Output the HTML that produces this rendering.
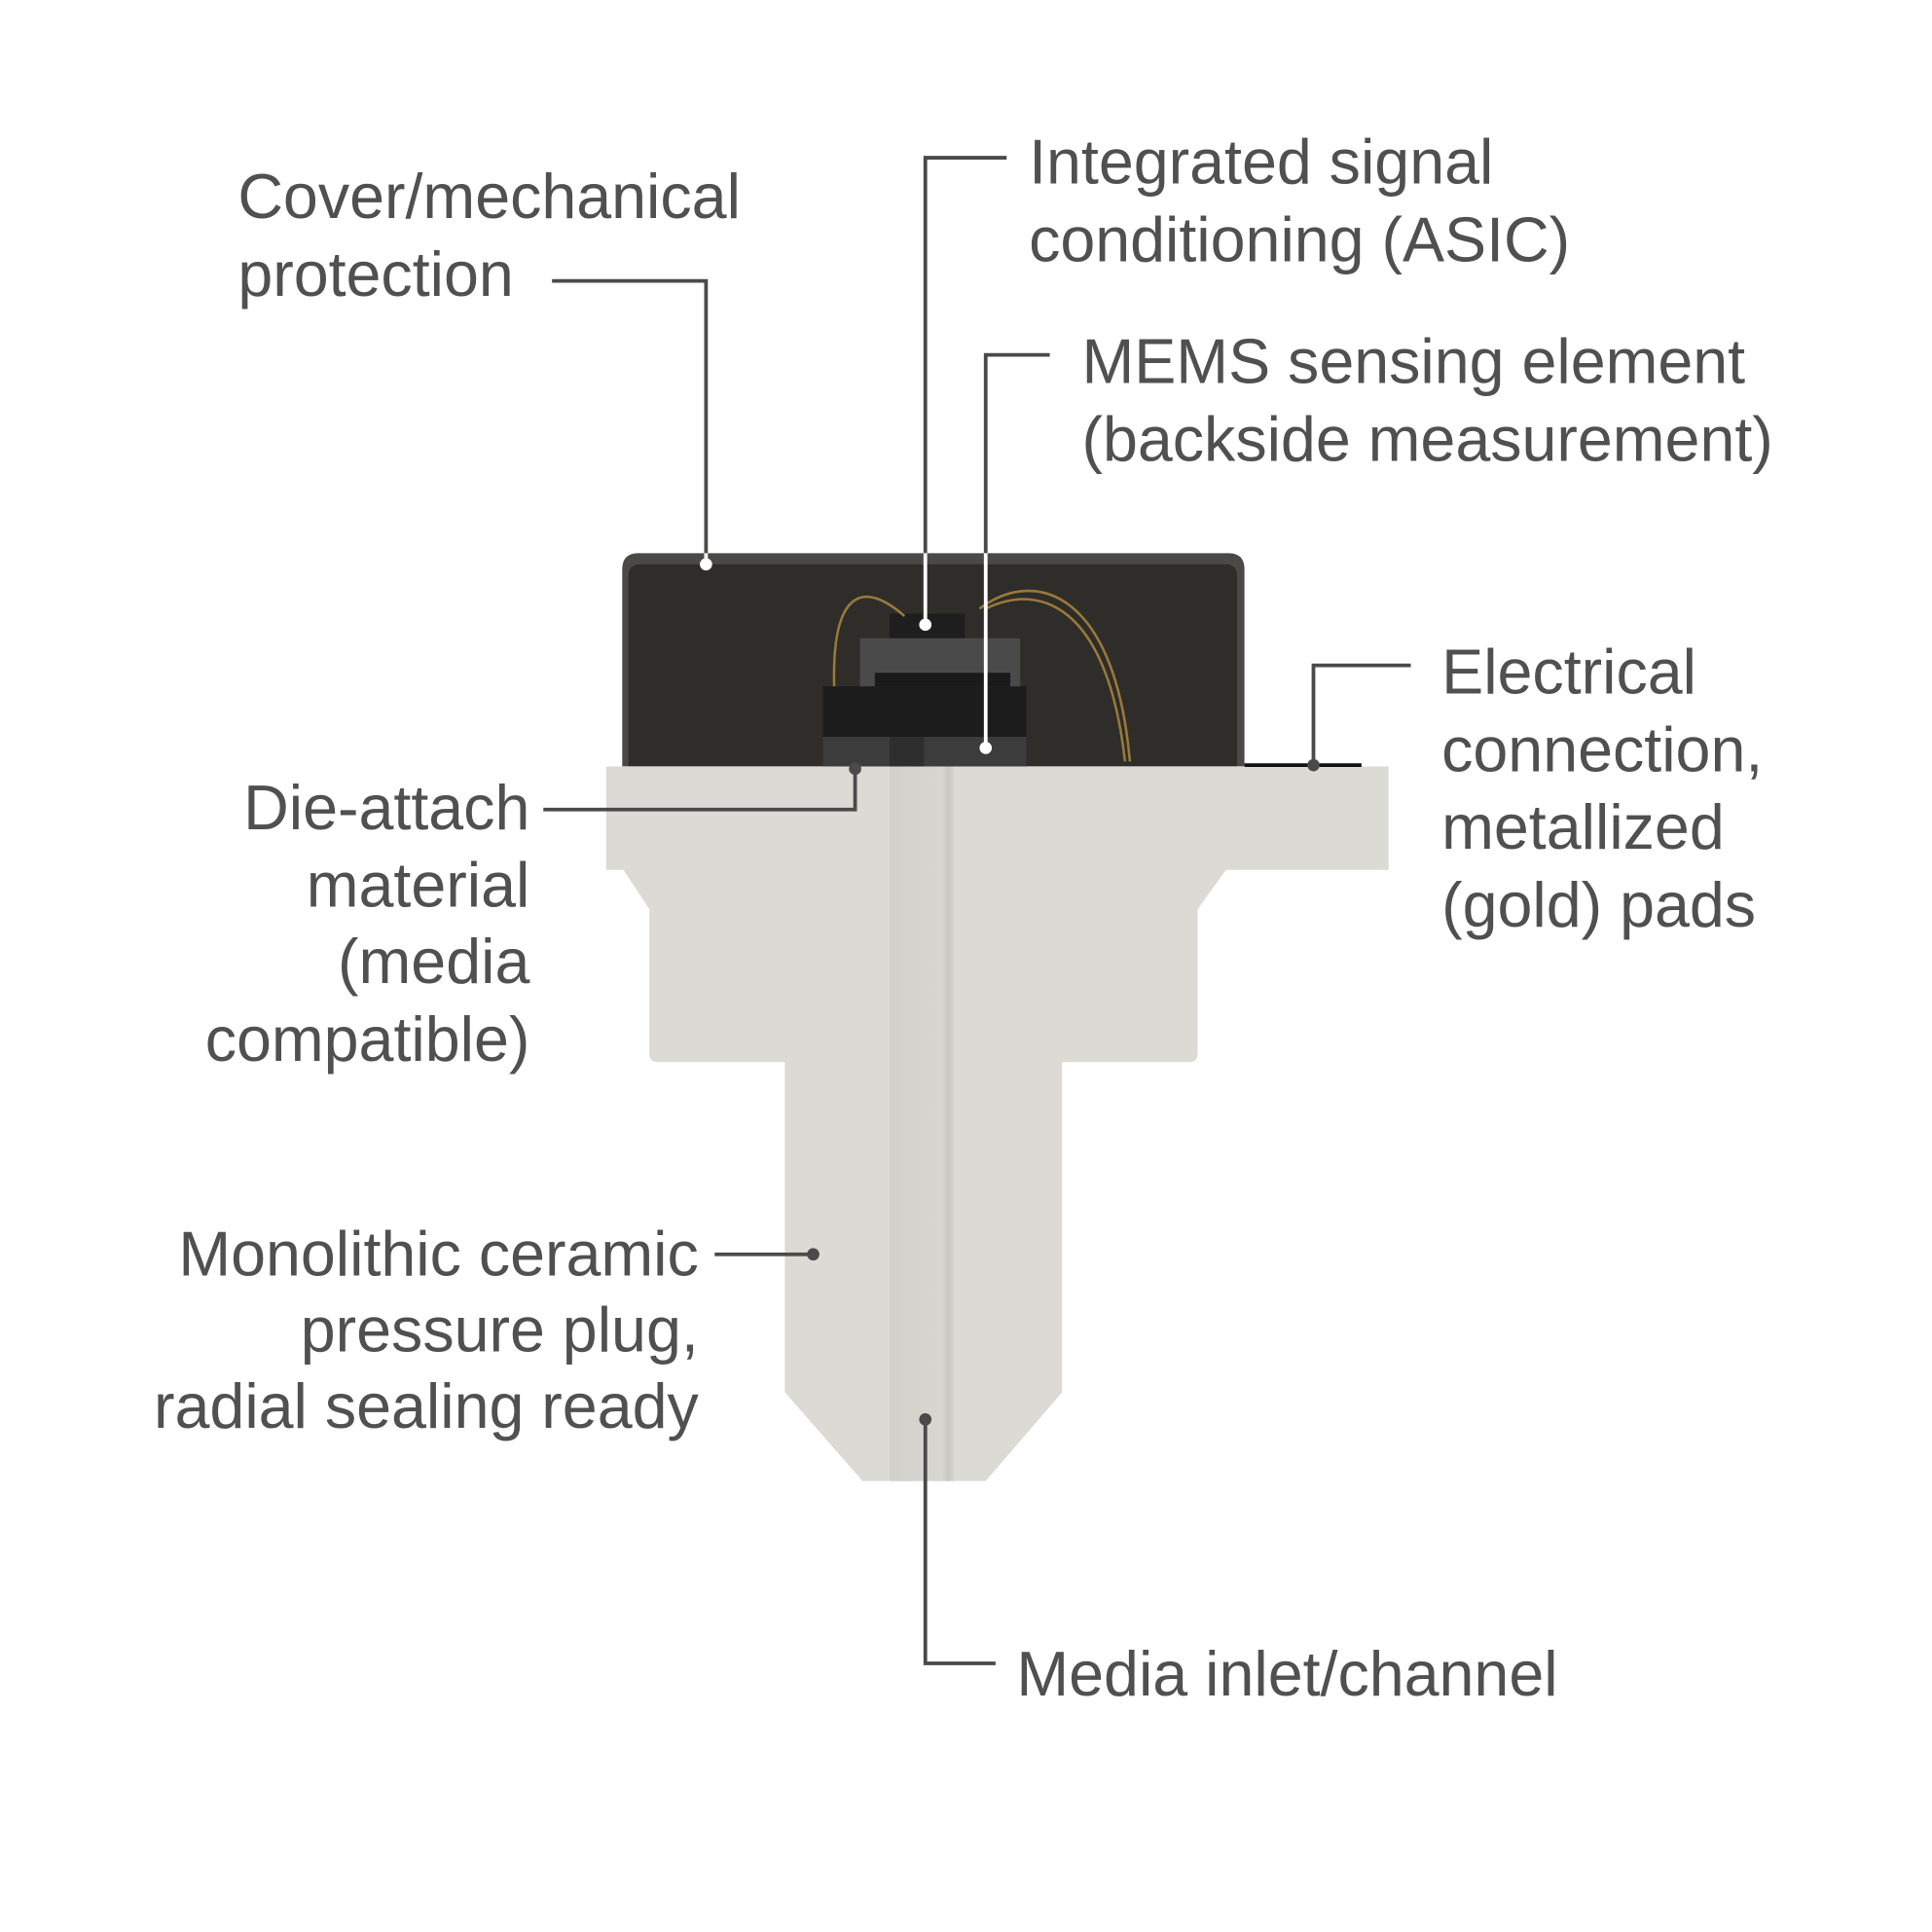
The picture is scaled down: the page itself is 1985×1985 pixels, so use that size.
<!DOCTYPE html>
<html><head><meta charset="utf-8"><style>
html,body{margin:0;padding:0;background:#fff}
svg{display:block}
text{font-family:"Liberation Sans",sans-serif;font-size:51px;letter-spacing:0px;fill:#505050;font-weight:normal}
</style></head><body>
<svg width="1985" height="1985" viewBox="0 0 1568 1568" xmlns="http://www.w3.org/2000/svg">
<defs>
<linearGradient id="chan" x1="0" x2="1">
<stop offset="0" stop-color="#d2d0ca"/><stop offset="0.8" stop-color="#d8d6d0"/><stop offset="0.9" stop-color="#c8c6c0"/><stop offset="1" stop-color="#dcdad4"/>
</linearGradient>
</defs>
<path d="M505,622 L505,462 Q505,449 518,449 L997,449 Q1010,449 1010,462 L1010,622 Z" fill="#4a4946"/>
<path d="M510,622 L510,468 Q510,458 520,458 L995,458 Q1004,458 1004,468 L1004,622 Z" fill="#2f2d2a"/>
<path d="M492,622 L1127,622 L1127,706 L995,706 L972,738 L972,855 Q972,862 965,862 L862,862 L862,1130 L800,1202 L700,1202 L637,1130 L637,862 L534,862 Q527,862 527,855 L527,738 L506,706 L492,706 Z" fill="#dcdad4"/>
<rect x="722" y="622" width="53" height="580" fill="url(#chan)"/>
<rect x="722" y="498" width="61" height="22" fill="#1e1e1e"/>
<rect x="698" y="518" width="130" height="40" fill="#4a4a4a"/>
<rect x="710" y="546" width="110" height="11" fill="#1a1a1a"/>
<rect x="668" y="557" width="165" height="42" fill="#1c1c1c"/>
<rect x="668" y="598" width="165" height="24" fill="#3c3c3c"/>
<rect x="722" y="598" width="28" height="24" fill="#2e2e2e"/>
<g fill="none" stroke="#9a7a3a" stroke-width="2">
<path d="M677,557 C675,480 700,470 734,500"/>
<path d="M795,494 C840,460 905,480 917,618"/>
<path d="M800,494 C850,470 900,500 913,618"/>
</g>
<line x1="1010" y1="621" x2="1105" y2="621" stroke="#111" stroke-width="3"/>
<g fill="none" stroke="#4a4a4a" stroke-width="3">
<path d="M448,228 L573,228 L573,449"/>
<path d="M817,128 L751,128 L751,449"/>
<path d="M852,288 L800,288 L800,449"/>
<path d="M1145,540 L1066,540 L1066,622"/>
<path d="M441,657 L694,657 L694,624"/>
<path d="M580,1018 L660,1018"/>
<path d="M808,1350 L751,1350 L751,1152"/>
</g>
<g fill="none" stroke="#fff" stroke-width="3">
<path d="M573,449 L573,458"/>
<path d="M751,449 L751,507"/>
<path d="M800,449 L800,607"/>
</g>
<g fill="#fff"><circle cx="573" cy="458" r="5"/><circle cx="751" cy="507" r="5"/><circle cx="800" cy="607" r="5"/></g>
<g fill="#4a4a4a"><circle cx="1066" cy="621" r="5"/><circle cx="694" cy="624" r="5"/><circle cx="660" cy="1018" r="5"/><circle cx="751" cy="1152" r="5"/></g>
<text x="193" y="177">Cover/mechanical</text>
<text x="193" y="240">protection</text>
<text x="835" y="149">Integrated signal</text>
<text x="835" y="212">conditioning (ASIC)</text>
<text x="878" y="311">MEMS sensing element</text>
<text x="878" y="374">(backside measurement)</text>
<text x="1170" y="563">Electrical</text>
<text x="1170" y="626">connection,</text>
<text x="1170" y="689">metallized</text>
<text x="1170" y="752">(gold) pads</text>
<g text-anchor="end">
<text x="430" y="673">Die-attach</text>
<text x="430" y="736">material</text>
<text x="430" y="798">(media</text>
<text x="430" y="861">compatible)</text>
<text x="567" y="1035">Monolithic ceramic</text>
<text x="567" y="1097">pressure plug,</text>
<text x="567" y="1159">radial sealing ready</text>
</g>
<text x="825" y="1376">Media inlet/channel</text>
</svg>
</body></html>
